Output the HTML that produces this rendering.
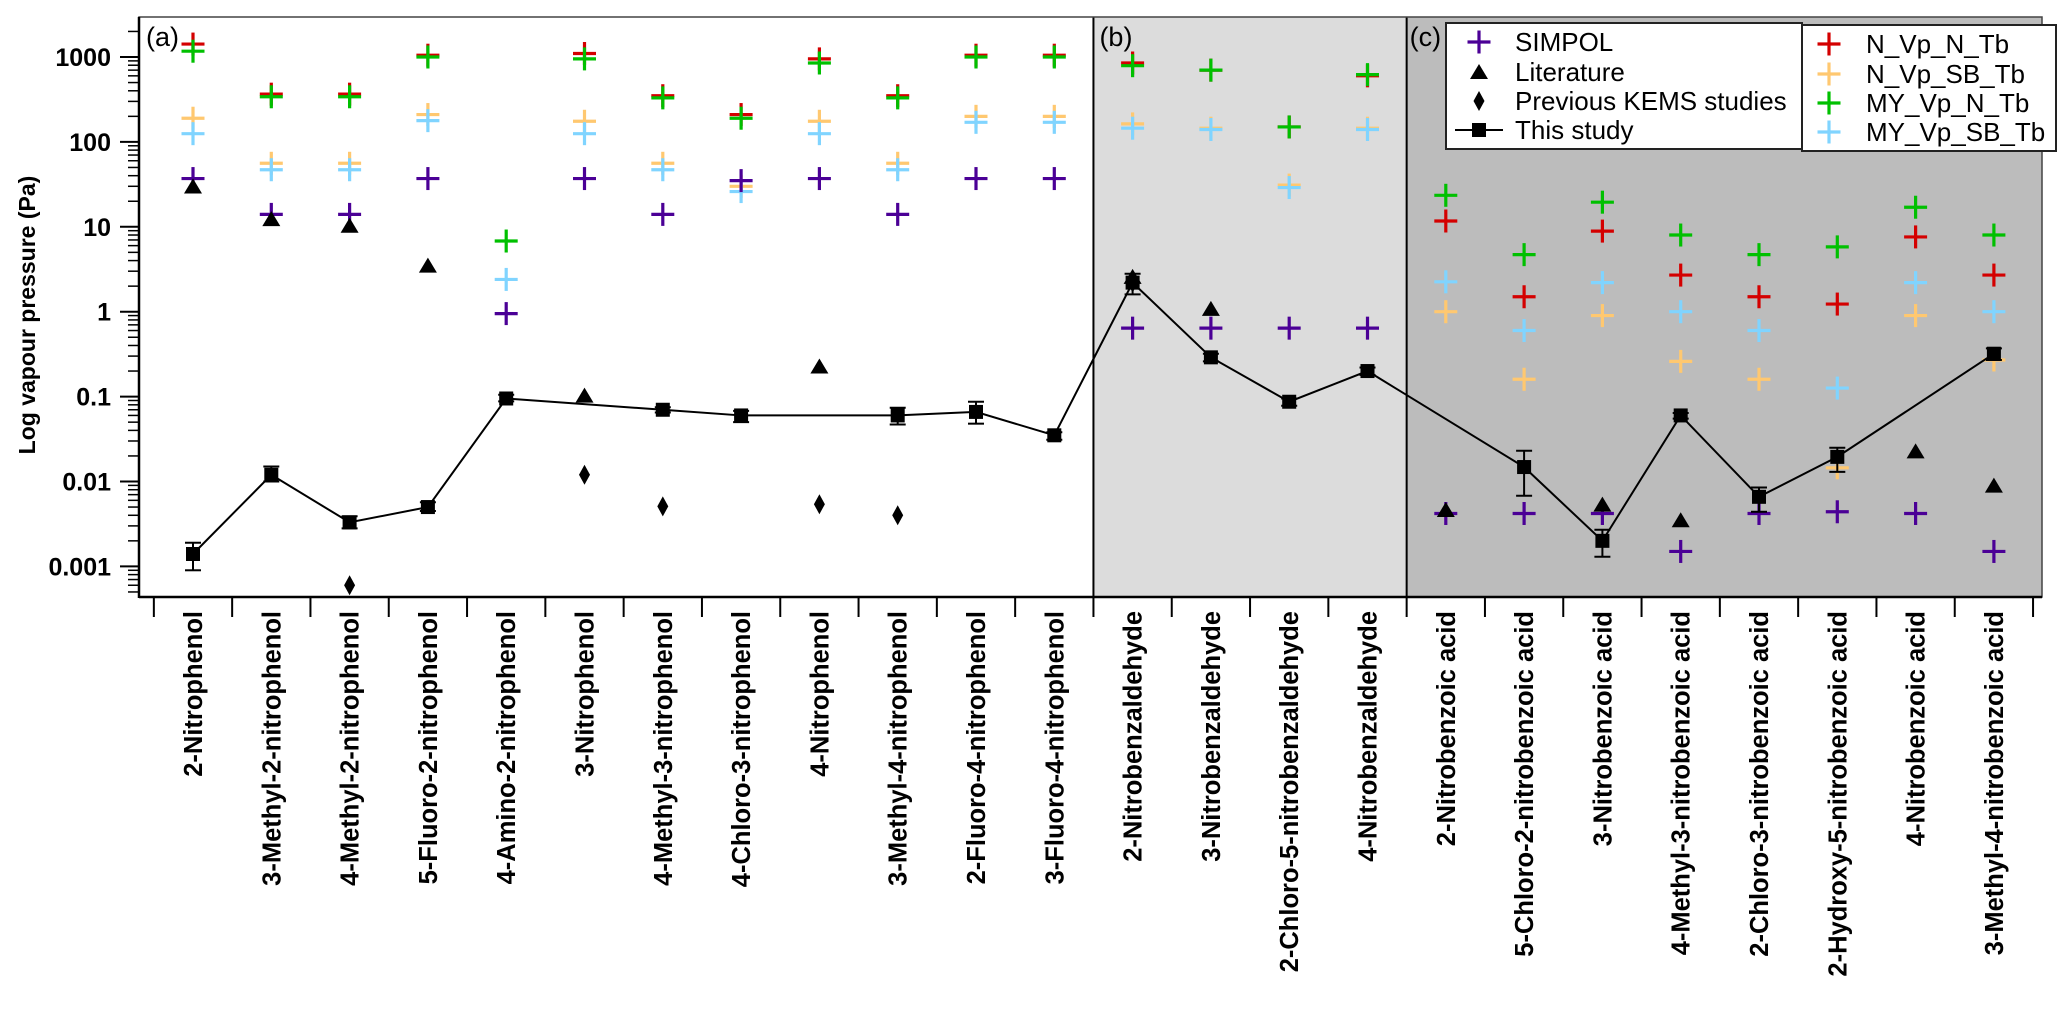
<!DOCTYPE html>
<html><head><meta charset="utf-8"><style>
html,body{margin:0;padding:0;background:#fff;}
svg{display:block;font-family:"Liberation Sans",Arial,sans-serif;}
</style></head><body>
<svg id="chart" width="2067" height="1009" viewBox="0 0 2067 1009" xmlns="http://www.w3.org/2000/svg">
<g id="bg"></g><g id="marks"></g><g id="axes"></g><g id="legend"></g>
</svg>
<script>
const categories=["2-Nitrophenol","3-Methyl-2-nitrophenol","4-Methyl-2-nitrophenol","5-Fluoro-2-nitrophenol","4-Amino-2-nitrophenol","3-Nitrophenol","4-Methyl-3-nitrophenol","4-Chloro-3-nitrophenol","4-Nitrophenol","3-Methyl-4-nitrophenol","2-Fluoro-4-nitrophenol","3-Fluoro-4-nitrophenol","2-Nitrobenzaldehyde","3-Nitrobenzaldehyde","2-Chloro-5-nitrobenzaldehyde","4-Nitrobenzaldehyde","2-Nitrobenzoic acid","5-Chloro-2-nitrobenzoic acid","3-Nitrobenzoic acid","4-Methyl-3-nitrobenzoic acid","2-Chloro-3-nitrobenzoic acid","2-Hydroxy-5-nitrobenzoic acid","4-Nitrobenzoic acid","3-Methyl-4-nitrobenzoic acid"];
const nVpNTb=[1420,365,365,1050,null,1100,350,210,950,350,1050,1050,850,700,150,600,11.7,1.5,8.9,2.7,1.5,1.23,7.6,2.7];
const nVpSBTb=[190,56,56,210,null,175,56,30,175,56,200,200,163,145,31,145,1.0,0.16,0.9,0.26,0.16,0.0145,0.9,0.27];
const myVpNTb=[1170,340,340,1000,6.8,950,330,190,850,330,1000,1000,790,700,150,620,23.5,4.7,19.5,8,4.7,5.8,17,8];
const myVpSBTb=[125,47,47,178,2.4,125,47,26,125,47,170,170,145,140,29,140,2.25,0.6,2.2,1.0,0.6,0.126,2.2,1.0];
const simpol=[37,14,14,37,0.95,37,14,35,37,14,37,37,0.64,0.64,0.64,0.64,0.0042,0.0042,0.0042,0.0015,0.0042,0.0044,0.0042,0.0015];
const literature=[29,12,10,3.4,null,0.1,null,null,0.22,null,null,null,2.5,1.05,null,null,0.0045,null,0.0052,0.0034,null,null,0.022,0.0087];
const previousKEMS=[null,null,0.0006,null,null,0.012,0.0051,null,0.0054,0.004,null,null,2.2,null,null,null,null,null,null,null,null,null,null,null];
const thisStudy=[0.0014,0.012,0.0033,0.005,0.095,null,0.07,0.06,null,0.06,0.066,0.035,2.2,0.29,0.087,0.2,null,0.0148,0.002,0.06,0.0066,0.0195,null,0.32];
const studyLow=[0.0009,0.010,0.0028,0.0045,0.088,null,0.065,0.05,null,0.047,0.048,0.031,1.6,0.26,0.078,0.18,null,0.0068,0.0013,0.055,0.0044,0.013,null,0.27];
const studyHigh=[0.0019,0.015,0.0039,0.0057,0.105,null,0.075,0.068,null,0.074,0.087,0.038,2.8,0.32,0.095,0.22,null,0.023,0.0027,0.064,0.0085,0.025,null,0.37];
const yTicks=[1000,100,10,1,0.1,0.01,0.001];
const yTickLabels=["1000","100","10","1","0.1","0.01","0.001"];

const NS="http://www.w3.org/2000/svg";
const L=139,R=2042,T=17,B=597,X0=193,DX=78.3;
const Y1000=57,DEC=84.9;
function xs(i){return X0+i*DX;}
function ys(v){return Y1000+(3-Math.log10(v))*DEC;}
function mk(tag,attrs,parent){const e=document.createElementNS(NS,tag);for(const k in attrs)e.setAttribute(k,attrs[k]);parent.appendChild(e);return e;}
const bg=document.getElementById('bg'),marks=document.getElementById('marks'),axes=document.getElementById('axes'),leg=document.getElementById('legend');

// panels
let p=mk('rect',{x:L,y:T,width:R-L,height:B-T,fill:'#ffffff'},bg);

const bx=xs(11.5),cx=xs(15.5);
p=mk('rect',{x:bx,y:T,width:cx-bx,height:B-T,fill:'#dcdcdc'},bg);

p=mk('rect',{x:cx,y:T,width:R-cx,height:B-T,fill:'#bcbcbc'},bg);

p=mk('line',{x1:bx,y1:T,x2:bx,y2:B,stroke:'#000','stroke-width':2},bg);

p=mk('line',{x1:cx,y1:T,x2:cx,y2:B,stroke:'#000','stroke-width':2},bg);

p=mk('rect',{x:L,y:T,width:R-L,height:B-T,fill:'none',stroke:'#444','stroke-width':1.5},bg);

[['(a)',146],['(b)',bx+6],['(c)',cx+3]].forEach(a=>{const t=mk('text',{x:a[1],y:46,'font-size':27},bg);t.textContent=a[0];
});

function cross(x,y,color,parent,name){const g=mk('g',{},parent);

mk('line',{x1:x-11.5,y1:y,x2:x+11.5,y2:y,stroke:color,'stroke-width':3.2},g);
mk('line',{x1:x,y1:y-11.5,x2:x,y2:y+11.5,stroke:color,'stroke-width':3.2},g);return g;}
function tri(x,y,parent,name){const e=mk('polygon',{points:`${x},${y-9} ${x+9},${y+6} ${x-9},${y+6}`,fill:'#000'},parent);
}
function diamond(x,y,parent,name){const e=mk('polygon',{points:`${x},${y-10} ${x+5.5},${y} ${x},${y+10} ${x-5.5},${y}`,fill:'#000'},parent);
}

const crossSeries=[[nVpNTb,'#d40000','n-vp-n-tb-point'],[nVpSBTb,'#ffc870','n-vp-sb-tb-point'],[myVpNTb,'#00c000','my-vp-n-tb-point'],[myVpSBTb,'#80d4ff','my-vp-sb-tb-point'],[simpol,'#4b0096','simpol-point']];
crossSeries.forEach(s=>{s[0].forEach((v,i)=>{if(v!=null)cross(xs(i),ys(v),s[1],marks,s[2]);});});
literature.forEach((v,i)=>{if(v!=null)tri(xs(i),ys(v),marks,'literature-point');});
previousKEMS.forEach((v,i)=>{if(v!=null)diamond(xs(i),ys(v),marks,'previous-kems-point');});
// this study line
let pts=[];thisStudy.forEach((v,i)=>{if(v!=null)pts.push(xs(i)+','+ys(v));});
p=mk('polyline',{points:pts.join(' '),fill:'none',stroke:'#000','stroke-width':2},marks);

thisStudy.forEach((v,i)=>{if(v==null)return;const x=xs(i),y=ys(v);
const g=mk('g',{},marks);

const y1=ys(studyHigh[i]),y2=ys(studyLow[i]);
mk('line',{x1:x,y1:y1,x2:x,y2:y2,stroke:'#000','stroke-width':2},g);
mk('line',{x1:x-8,y1:y1,x2:x+8,y2:y1,stroke:'#000','stroke-width':2},g);
mk('line',{x1:x-8,y1:y2,x2:x+8,y2:y2,stroke:'#000','stroke-width':2},g);
mk('rect',{x:x-7,y:y-7,width:14,height:14,fill:'#000'},g);});

// axes
p=mk('line',{x1:L,y1:T,x2:L,y2:B+1,stroke:'#000','stroke-width':2.5},axes);

p=mk('line',{x1:L,y1:B,x2:R,y2:B,stroke:'#000','stroke-width':2.5},axes);

yTicks.forEach((v,k)=>{const y=ys(v);
mk('line',{x1:L-19,y1:y,x2:L,y2:y,stroke:'#000','stroke-width':2},axes);
const t=mk('text',{x:L-28,y:y+9,'font-size':25,'font-weight':'bold','text-anchor':'end'},axes);t.textContent=yTickLabels[k];
});
for(let e=-4;e<=3;e++){for(let m=2;m<=9;m++){const v=m*Math.pow(10,e);const y=ys(v);if(y<T||y>B)continue;
mk('line',{x1:L-11,y1:y,x2:L,y2:y,stroke:'#000','stroke-width':1.5},axes);}}
const yt=mk('text',{x:0,y:0,'font-size':23,'font-weight':'bold','text-anchor':'middle',transform:'translate(35,315) rotate(-90)'},axes);
yt.textContent='Log vapour pressure (Pa)';

categories.forEach((c,i)=>{const x=xs(i);
mk('line',{x1:x-DX/2,y1:B,x2:x-DX/2,y2:B+20,stroke:'#000','stroke-width':2},axes);
const t=mk('text',{x:0,y:0,'font-size':25.5,'font-weight':'bold','text-anchor':'end',transform:`translate(${x+9},${611}) rotate(-90)`},axes);
t.textContent=c;
});
mk('line',{x1:xs(23)+DX/2,y1:B,x2:xs(23)+DX/2,y2:B+20,stroke:'#000','stroke-width':2},axes);

// legends
p=mk('rect',{x:1446,y:23,width:356,height:126,fill:'#fff',stroke:'#222','stroke-width':2},leg);

p=mk('rect',{x:1802,y:25,width:254,height:126,fill:'#fff',stroke:'#222','stroke-width':2},leg);

const rows=[42,72,101,130];
function ltext(x,y,s){const t=mk('text',{x:x,y:y+9,'font-size':26,textLength:0},leg);t.removeAttribute('textLength');t.textContent=s;
}
cross(1479,rows[0],'#4b0096',leg,'legend-simpol-marker');ltext(1515,rows[0],'SIMPOL');
tri(1479,rows[1]+1,leg,'legend-literature-marker');ltext(1515,rows[1],'Literature');
diamond(1479,rows[2],leg,'legend-kems-marker');ltext(1515,rows[2],'Previous KEMS studies');
p=mk('line',{x1:1455,y1:rows[3],x2:1503,y2:rows[3],stroke:'#000','stroke-width':2},leg);

p=mk('rect',{x:1472,y:rows[3]-7,width:14,height:14,fill:'#000'},leg);

ltext(1515,rows[3],'This study');
const l2=[['#d40000','N_Vp_N_Tb'],['#ffc870','N_Vp_SB_Tb'],['#00c000','MY_Vp_N_Tb'],['#80d4ff','MY_Vp_SB_Tb']];
l2.forEach((e,k)=>{cross(1829,rows[k]+2,e[0],leg,'legend-marker');ltext(1866,rows[k]+2,e[1]);});
</script>
</body></html>
